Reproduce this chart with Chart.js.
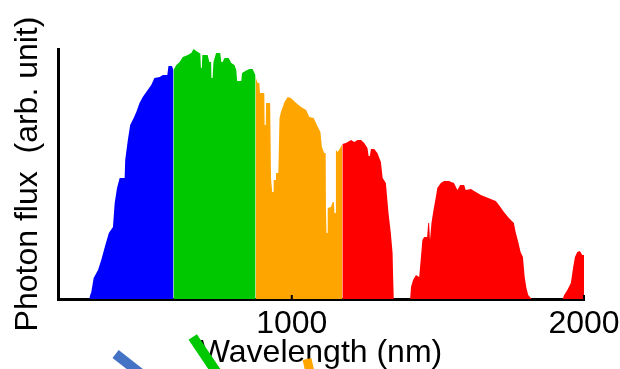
<!DOCTYPE html>
<html>
<head>
<meta charset="utf-8">
<script src="https://cdn.jsdelivr.net/npm/chart.js@4/dist/chart.umd.min.js"></script>
<style>
  html, body { margin: 0; padding: 0; background: #fff; }
  #wrap { width: 620px; height: 369px; }
</style>
</head>
<body>
<div id="wrap"><canvas id="spectrum" width="620" height="369"></canvas></div>
<script>
// Solar photon flux spectrum, split into four absorption bands.
const blueNm   = [307, 308, 314, 322, 337, 348, 362, 374, 388, 394, 402, 411, 428, 430, 439, 447, 459, 468, 479, 490, 502, 519, 530, 548, 559, 574, 578, 590, 595];
const blueFlux = [0, 0.8, 2.8, 8.4, 11.6, 15.6, 21.6, 26.4, 28.8, 38.4, 44.4, 48.4, 48.4, 55.6, 63.6, 69.6, 72.4, 74.8, 78.4, 80.8, 82.8, 85.6, 88.4, 88.8, 89.6, 89.6, 93.2, 93.2, 91.6];

const greenNm   = [595, 605, 616, 627, 644, 656, 664, 678, 687, 689, 692, 694, 712, 718, 724, 725, 729, 732, 741, 755, 759, 763, 770, 784, 793, 804, 810, 813, 827, 830, 841, 855, 866, 872, 876];
const greenFlux = [91.6, 93.6, 94.8, 96.8, 97.6, 98.4, 100, 98.8, 98.2, 92.4, 92.4, 97.6, 97.6, 94.8, 94.8, 88.4, 88.4, 94.8, 98.4, 98.4, 94.8, 94.8, 96.4, 96.4, 94.4, 93.6, 91.6, 87.2, 87.2, 90.4, 91.2, 92, 92, 90.4, 89.6];

const orangeNm   = [876, 883, 889, 891, 906, 907, 911, 912, 926, 929, 933, 937, 938, 944, 946, 954, 958, 963, 975, 986, 997, 1015, 1032, 1049, 1060, 1075, 1086, 1098, 1103, 1111, 1116, 1117, 1119, 1122, 1123, 1134, 1140, 1144, 1146, 1149, 1151, 1157, 1166, 1173];
const orangeFlux = [88.8, 86.4, 86.4, 82.4, 82.4, 69.6, 69.6, 78.4, 78.4, 48.4, 42.8, 42.8, 47.6, 47.6, 50.4, 50.4, 72.4, 74.8, 78.8, 80.8, 80.4, 78.4, 76.8, 75.6, 72.8, 72.4, 69.6, 66.8, 60.8, 58.4, 58.4, 35.6, 26.4, 26.4, 36.4, 36.8, 38.8, 38.8, 34.4, 34.4, 59.6, 58.8, 60.4, 62];

const redNm   = [1173, 1185, 1203, 1214, 1225, 1237, 1248, 1259, 1263, 1267, 1271, 1282, 1293, 1305, 1311, 1322, 1331, 1339, 1345, 1347, 1349,
                 1405, 1408, 1415, 1425, 1436, 1442, 1447, 1453, 1463, 1467, 1470, 1473, 1478, 1485, 1493, 1498, 1510, 1521, 1538, 1555, 1567, 1576, 1590, 1595, 1613, 1630, 1647, 1664, 1681, 1698, 1709, 1726, 1743, 1760, 1766, 1775, 1783, 1791, 1797, 1803, 1809, 1818, 1822,
                 1927, 1932, 1943, 1955, 1963, 1969, 1977, 1986, 1994, 2000];
const redFlux = [62, 62.4, 63.6, 62.8, 63.6, 63.6, 62.4, 60.4, 57.2, 57.2, 60, 60, 58.4, 54.8, 48.4, 46.4, 34.4, 26.4, 18.4, 8, 0,
                 0, 4.8, 7.6, 9.6, 8.8, 16.8, 23.6, 24.8, 24.8, 30.4, 30.4, 23.6, 30.4, 35.6, 40.8, 44.4, 46.4, 47.2, 47.2, 46.4, 43.6, 45.6, 45.6, 43.6, 44, 42.8, 41.6, 40.8, 40, 39.2, 37.6, 34.8, 32.4, 30.4, 26.8, 22.8, 18.8, 16.8, 8.8, 4.4, 1.6, 0.4, 0,
                 0, 1.6, 3.6, 6.4, 12.8, 16.8, 18.8, 19.2, 17.6, 17.6];

const xTickValues = [1000, 2000];

const BAND_BLUE = '#0000FF';
const BAND_GREEN = '#00C800';
const BAND_ORANGE = '#FFA500';
const BAND_RED = '#FF0000';
const FONT = 'Arial, "Liberation Sans", sans-serif';

function band(nm, flux, color) {
  return {
    data: nm.map((w, i) => ({ x: w, y: flux[i] })),
    fill: 'origin',
    backgroundColor: color,
    borderWidth: 0,
    pointRadius: 0,
    tension: 0
  };
}

// Small inward tick marks on the wavelength axis.
const innerTicks = {
  id: 'innerTicks',
  afterDraw(chart) {
    const xs = chart.scales.x;
    const ctx = chart.ctx;
    const bottom = chart.chartArea.bottom;
    ctx.save();
    ctx.strokeStyle = '#000';
    ctx.lineWidth = 2;
    xs.ticks.forEach(t => {
      const px = xs.getPixelForValue(t.value);
      ctx.beginPath();
      ctx.moveTo(px, bottom);
      ctx.lineTo(px, bottom - 4);
      ctx.stroke();
    });
    ctx.restore();
  }
};

// Thick connector strokes leading down from the bands.
const connectors = {
  id: 'connectors',
  afterDraw(chart, args, opts) {
    const xs = chart.scales.x;
    const ctx = chart.ctx;
    const bottom = chart.chartArea.bottom;
    ctx.save();
    ctx.lineCap = 'butt';
    opts.items.forEach(c => {
      const x0 = xs.getPixelForValue(c.at);
      const y0 = bottom + c.drop;
      const a = c.angle * Math.PI / 180;
      ctx.strokeStyle = c.color;
      ctx.lineWidth = c.width;
      ctx.beginPath();
      ctx.moveTo(x0, y0);
      ctx.lineTo(x0 + 60 * Math.cos(a), y0 + 60 * Math.sin(a));
      ctx.stroke();
    });
    ctx.restore();
  }
};

new Chart(document.getElementById('spectrum'), {
  type: 'line',
  data: {
    datasets: [
      band(blueNm, blueFlux, BAND_BLUE),
      band(greenNm, greenFlux, BAND_GREEN),
      band(orangeNm, orangeFlux, BAND_ORANGE),
      band(redNm, redFlux, BAND_RED)
    ]
  },
  options: {
    responsive: false,
    animation: false,
    devicePixelRatio: 1,
    layout: { padding: { top: 49, left: 0, bottom: 0, right: 0 } },
    plugins: {
      legend: { display: false },
      tooltip: { enabled: false },
      connectors: {
        items: [
          { at: 397, drop: 55, angle: 38, color: '#4472C4', width: 10 },
          { at: 661, drop: 38, angle: 56, color: '#00C800', width: 10 },
          { at: 1052, drop: 60, angle: 77, color: '#FFA500', width: 9 }
        ]
      }
    },
    scales: {
      x: {
        type: 'linear',
        min: 200,
        max: 2000,
        z: 1,
        afterBuildTicks: s => { s.ticks = xTickValues.map(v => ({ value: v })); },
        afterFit: s => { s.height = 70; s.paddingRight = 36; s.paddingLeft = 0; },
        grid: { display: false, drawTicks: false },
        border: { display: true, color: '#000', width: 3 },
        ticks: {
          color: '#000',
          padding: 6,
          maxRotation: 0,
          callback: v => String(v),
          font: { family: FONT, size: 32 }
        },
        title: {
          display: true,
          text: 'Wavelength (nm)',
          color: '#000',
          padding: { top: 0, bottom: 0 },
          font: { family: FONT, size: 32, lineHeight: 1 }
        }
      },
      y: {
        min: 0,
        max: 100,
        z: 1,
        afterFit: s => { s.width = 58; },
        grid: { display: false, drawTicks: false },
        border: { display: true, color: '#000', width: 3 },
        ticks: { display: false },
        title: {
          display: true,
          text: 'Photon flux  (arb. unit)',
          color: '#000',
          padding: { top: 12, bottom: 0 },
          font: { family: FONT, size: 32, lineHeight: 1 }
        }
      }
    }
  },
  plugins: [innerTicks, connectors]
});
</script>
</body>
</html>
